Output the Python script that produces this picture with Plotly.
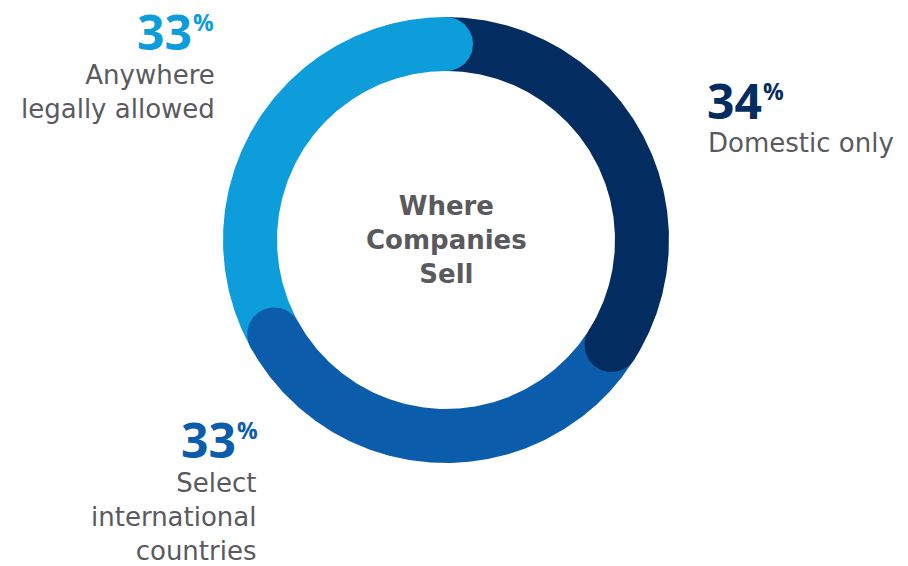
import numpy as np
import plotly.graph_objects as go

# Share of companies by where they sell
categories = ["Domestic only", "Select international countries", "Anywhere legally allowed"]
values = [34, 33, 33]
colors = ["#032D60", "#0B5CAB", "#0D9DDA"]
label_lines = [["Domestic only"], ["Select", "international", "countries"], ["Anywhere", "legally allowed"]]
center_title = ["Where", "Companies", "Sell"]

W, H = 908, 566
CX, CY = 446, 240          # ring centre (pixel space)
R_OUT, R_IN = 223, 169     # ring radii
R_MID = (R_OUT + R_IN) / 2
CAP = (R_OUT - R_IN) / 2
GRAY = "#5A5A5E"
NUM_FONT = "Open Sans"
TXT_FONT = "DejaVu Sans"


def to_xy(r, theta_deg):
    t = np.radians(theta_deg)
    return CX + r * np.sin(t), CY - r * np.cos(t)


fig = go.Figure()

# ring segments, clockwise from 12 o'clock
total = sum(values)
bounds = np.concatenate([[0], np.cumsum(values)]) / total * 360
for i, (cat, col) in enumerate(zip(categories, colors)):
    th = np.linspace(bounds[i], bounds[i + 1], 240)
    xo, yo = to_xy(R_OUT, th)
    xi, yi = to_xy(R_IN, th[::-1])
    fig.add_trace(go.Scatter(
        x=np.concatenate([xo, xi]), y=np.concatenate([yo, yi]),
        fill="toself", fillcolor=col, mode="lines", line=dict(width=0),
        hoverinfo="text", text=f"{cat}: {values[i]}%", showlegend=False))

# rounded end caps drawn over the following segment
for i, col in enumerate(colors):
    ex, ey = to_xy(R_MID, bounds[i + 1])
    phi = np.linspace(0, 2 * np.pi, 120)
    fig.add_trace(go.Scatter(
        x=ex + CAP * np.cos(phi), y=ey + CAP * np.sin(phi),
        fill="toself", fillcolor=col, mode="lines", line=dict(width=0),
        hoverinfo="skip", showlegend=False))

annotations = []

# centre title
annotations.append(dict(
    x=CX, y=CY, text="<br>".join(center_title), xanchor="center", align="center",
    font=dict(family=TXT_FONT, size=26, color=GRAY, weight="bold")))

# value labels: number anchor (nx, ny), alignment side, text block anchor (tx, ty)
placements = [
    dict(nx=708, ny=100, side="left", tx=708, ty=143),
    dict(nx=237, ny=439, side="right", tx=257, ty=517),
    dict(nx=193, ny=31, side="right", tx=215, ty=92),
]
for v, col, lines, p in zip(values, colors, label_lines, placements):
    if p["side"] == "left":
        num = dict(x=p["nx"] - 3, xanchor="left")
        pct = dict(x=p["nx"] + 53, xanchor="left")
        txt = dict(x=p["tx"] - 2, xanchor="left", align="left")
    else:
        num = dict(x=p["nx"] + 1, xanchor="right")
        pct = dict(x=p["nx"] - 2, xanchor="left")
        txt = dict(x=p["tx"] + 2, xanchor="right", align="right")
    annotations.append(dict(
        y=p["ny"], text=f"{v}", height=42, valign="middle",
        font=dict(family=NUM_FONT, size=48, color=col, weight="bold"), **num))
    annotations.append(dict(
        y=p["ny"] - 9, text="%", height=24, valign="middle",
        font=dict(family=NUM_FONT, size=23, color=col, weight="bold"), **pct))
    annotations.append(dict(
        y=p["ty"], text="<br>".join(lines),
        font=dict(family=TXT_FONT, size=26, color=GRAY), **txt))

for a in annotations:
    a.update(xref="x", yref="y", showarrow=False, yanchor="middle")

fig.update_layout(
    width=W, height=H, margin=dict(l=0, r=0, t=0, b=0),
    paper_bgcolor="white", plot_bgcolor="white",
    xaxis=dict(range=[0, W], visible=False, fixedrange=True),
    yaxis=dict(range=[H, 0], visible=False, fixedrange=True),
    annotations=annotations,
)

fig.write_html("out.html")
